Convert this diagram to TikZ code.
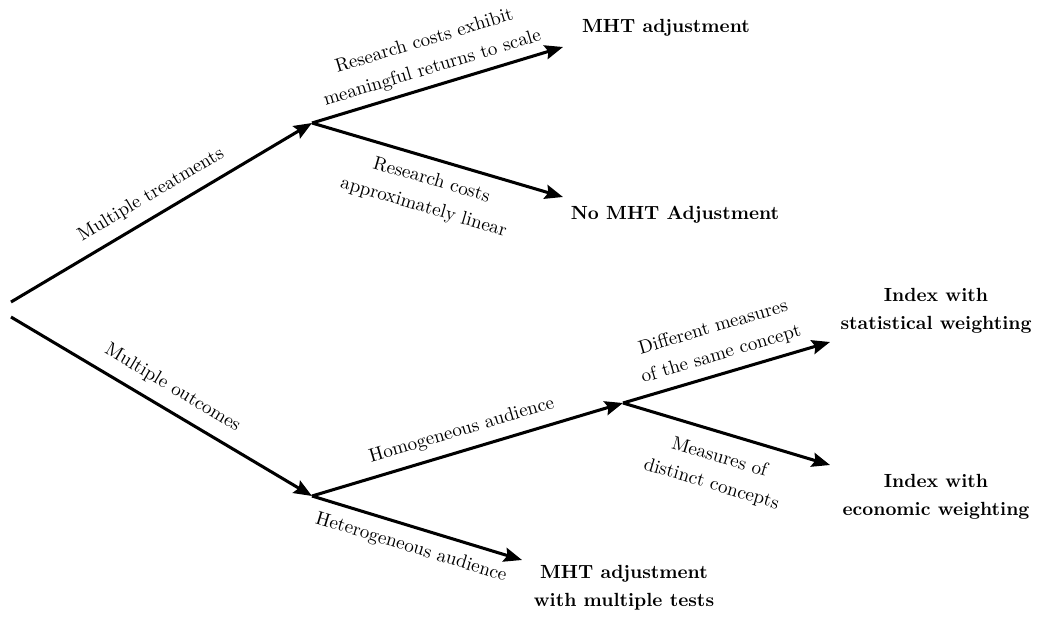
\documentclass[tikz,border=0pt]{standalone}
\usetikzlibrary{arrows.meta}
\begin{document}
\begin{tikzpicture}[x=0.525pt,y=-0.525pt,
  conn/.style={line width=1.6pt, -{Stealth[length=9.5pt,width=7.5pt,inset=1.5pt]}},
  lab/.style={sloped, inner sep=0pt, align=center},
  leaf/.style={font=\bfseries, align=center, inner sep=0pt}]
\useasboundingbox (0,0) rectangle (1038,616);
\coordinate (r1) at (11,302);
\coordinate (r2) at (11,317);
\coordinate (A) at (312,123);
\coordinate (B) at (312,496);
\coordinate (C) at (623,403);
\coordinate (e1) at (563,47);
\coordinate (e2) at (563,197);
\coordinate (e3) at (522,560);
\coordinate (e4) at (830,342);
\coordinate (e5) at (830,465);
\node[leaf, anchor=base] (L1) at (666,32) {MHT adjustment};
\node[leaf, anchor=base] (L2) at (675,219) {No MHT Adjustment};
\node[leaf] (L3) at (936,311) {Index with\\[2.7pt]statistical weighting};
\node[leaf] (L4) at (936,497) {Index with\\[2.7pt]economic weighting};
\node[leaf] (L5) at (624,588) {MHT adjustment\\[2.7pt]with multiple tests};
\draw[conn] (r1) -- node[lab, above=5.5pt] {Multiple treatments} (A);
\draw[conn] (r2) -- node[lab, above=6pt] {Multiple outcomes} (B);
\draw[conn] (A) -- node[lab, above=3.8pt] {Research costs exhibit\\[2.7pt]meaningful returns to scale} (e1);
\draw[conn] (A) -- node[lab, below=6pt] {Research costs\\[2.7pt]approximately linear} (e2);
\draw[conn] (B) -- node[lab, above=5pt] {Homogeneous audience} (C);
\draw[conn] (B) -- node[lab, below=5.5pt] {Heterogeneous audience} (e3);
\draw[conn] (C) -- node[lab, above=4.5pt] {Different measures\\[2.7pt]of the same concept} (e4);
\draw[conn] (C) -- node[lab, below=7.7pt] {Measures of\\[2.7pt]distinct concepts} (e5);
\end{tikzpicture}
\end{document}
